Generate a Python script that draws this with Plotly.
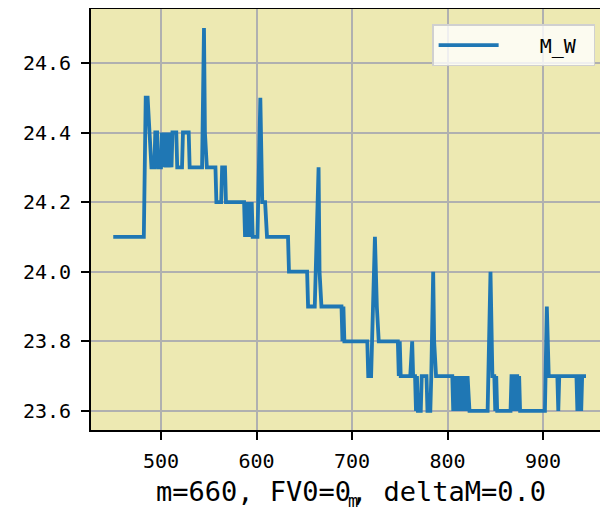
import plotly.graph_objects as go

m = [450, 482, 484, 486, 488, 490, 493, 494, 496, 497, 500, 501, 502, 503, 505, 506,
     508, 509, 511, 512, 516, 517, 522, 523, 529, 530, 543, 545, 546, 548, 557, 558,
     563, 564, 567, 568, 587, 588, 589, 590, 591, 592, 593, 594, 595, 596, 601, 604,
     606, 609, 611, 633, 634, 653, 654, 661, 665, 666, 668, 689, 690, 691, 692, 716,
     717, 720, 721, 724, 726, 728, 748, 749, 750, 751, 761, 762, 763, 764, 766, 767,
     768, 769, 772, 773, 778, 779, 782, 783, 785, 786, 788, 805, 806, 807, 808, 809,
     811, 812, 814, 815, 817, 818, 820, 821, 823, 842, 845, 847, 849, 850, 851, 852,
     866, 867, 869, 870, 871, 873, 874, 875, 876, 902, 904, 906, 915, 916, 917, 935,
     936, 937, 939, 940, 941, 945]
m_w = [24.1, 24.1, 24.5, 24.5, 24.4, 24.3, 24.3, 24.4, 24.4, 24.3, 24.3, 24.4, 24.3, 24.4, 24.3, 24.4,
       24.3, 24.4, 24.3, 24.4, 24.4, 24.3, 24.3, 24.4, 24.4, 24.3, 24.3, 24.7, 24.4, 24.3, 24.3, 24.2,
       24.2, 24.3, 24.3, 24.2, 24.2, 24.1, 24.2, 24.1, 24.2, 24.1, 24.2, 24.1, 24.2, 24.1, 24.1, 24.5,
       24.2, 24.2, 24.1, 24.1, 24.0, 24.0, 23.9, 23.9, 24.3, 24.0, 23.9, 23.9, 23.8, 23.9, 23.8, 23.8,
       23.7, 23.7, 23.8, 24.1, 23.9, 23.8, 23.8, 23.7, 23.8, 23.7, 23.7, 23.8, 23.8, 23.7, 23.7, 23.6,
       23.7, 23.6, 23.6, 23.7, 23.7, 23.6, 23.6, 23.7, 24.0, 23.8, 23.7, 23.7, 23.6, 23.7, 23.6, 23.7,
       23.6, 23.7, 23.6, 23.7, 23.6, 23.7, 23.6, 23.7, 23.6, 23.6, 24.0, 23.7, 23.7, 23.6, 23.7, 23.6,
       23.6, 23.7, 23.7, 23.6, 23.7, 23.7, 23.6, 23.7, 23.6, 23.6, 23.9, 23.7, 23.7, 23.6, 23.7, 23.7,
       23.6, 23.7, 23.7, 23.6, 23.7, 23.7]

x_ticks = [500, 600, 700, 800, 900]
y_ticks = [23.6, 23.8, 24.0, 24.2, 24.4, 24.6]
y_labels = ["23.6", "23.8", "24.0", "24.2", "24.4", "24.6"]

FONT = "DejaVu Sans Mono, Liberation Mono, monospace"

fig = go.Figure()

fig.add_trace(
    go.Scatter(
        x=m,
        y=m_w,
        mode="lines",
        name="&nbsp;&nbsp;&nbsp;M_W&nbsp;",
        line=dict(color="#1f77b4", width=3.8),
    )
)

axis_common = dict(
    automargin=False,
    showline=True,
    linecolor="black",
    linewidth=1.8,
    mirror=True,
    showgrid=True,
    gridcolor="#b0b0b0",
    gridwidth=1.8,
    zeroline=False,
    ticks="outside",
    ticklen=8,
    tickwidth=1.8,
    tickcolor="black",
    tickfont=dict(family=FONT, size=20, color="black"),
)

# page body has an 8px margin, so the figure is sized to fit inside the window
fig.update_layout(
    width=600,
    height=502,
    margin=dict(l=83, r=1, t=1, b=80),
    paper_bgcolor="white",
    plot_bgcolor="#EDE9B2",
    showlegend=True,
    legend=dict(
        x=0.977,
        y=0.964,
        xanchor="right",
        yanchor="top",
        bgcolor="rgba(255,255,255,0.8)",
        bordercolor="#d0d0d0",
        borderwidth=1.5,
        itemwidth=60,
        font=dict(family=FONT, size=20, color="black"),
    ),
    xaxis=dict(range=[426.7, 967], tickvals=x_ticks, ticklabelstandoff=4, **axis_common),
    yaxis=dict(range=[23.545, 24.755], tickvals=y_ticks, ticktext=y_labels,
               ticklabelstandoff=6, **axis_common),
    annotations=[
        dict(
            text="m=660, FV0=0, deltaM=0.0",
            x=0.504, y=-0.147, xref="paper", yref="paper",
            xanchor="center", yanchor="middle", showarrow=False,
            font=dict(family=FONT, size=27, color="black"),
        ),
        dict(
            text="m",
            x=0.508, y=-0.168, xref="paper", yref="paper",
            xanchor="center", yanchor="middle", showarrow=False,
            font=dict(family=FONT, size=17, color="black"),
        ),
    ],
)

fig.write_html("out.html")
